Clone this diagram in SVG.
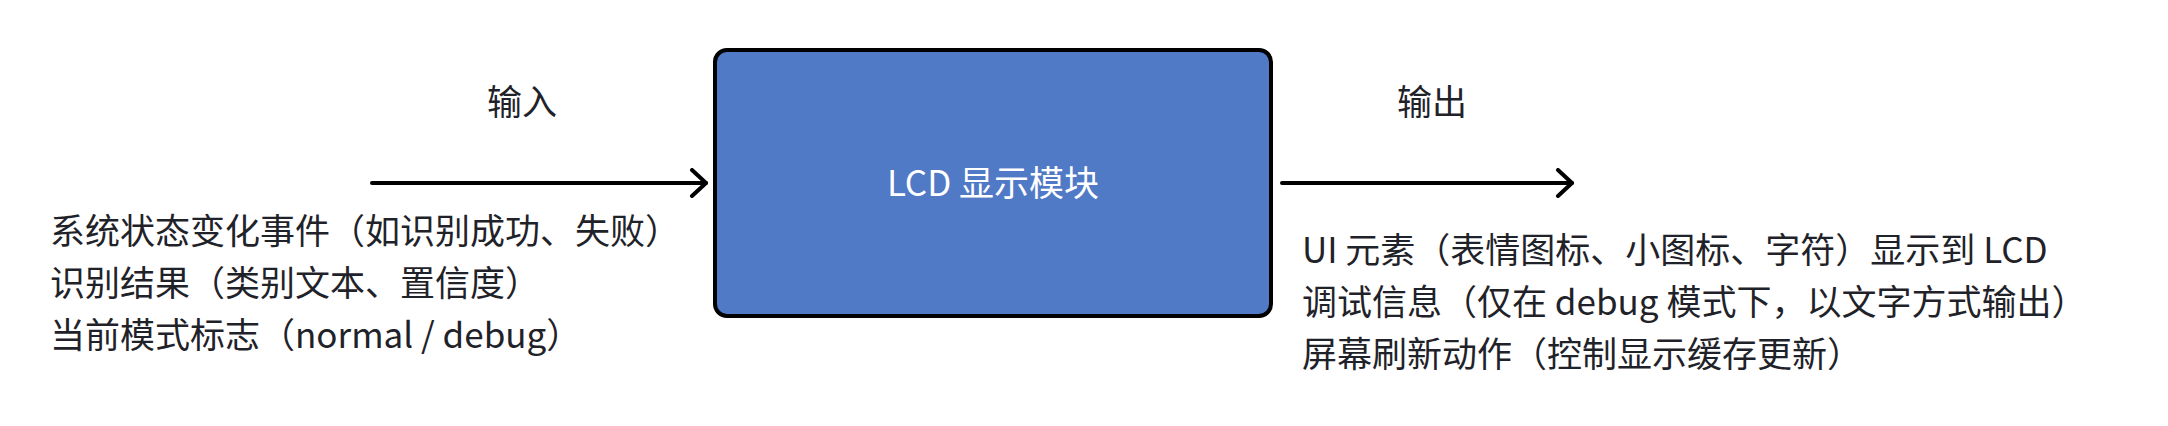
<svg xmlns="http://www.w3.org/2000/svg" width="2168" height="426" viewBox="0 0 2168 426">
<defs>
<style>
.t{font-family:"Noto Sans CJK SC","Noto Sans",sans-serif;font-size:35px;fill:#1f2329}
.b{font-family:"Noto Sans CJK SC","Noto Sans",sans-serif;font-size:35px;fill:#ffffff}
.c{stroke:#000;stroke-width:4;fill:none;stroke-linecap:round}
</style>
<marker id="ah" viewBox="0 0 20 30" markerWidth="20" markerHeight="30" refX="17" refY="15" orient="auto" markerUnits="userSpaceOnUse">
<path d="M3,2 L17,15 L3,28" fill="none" stroke="#000" stroke-width="4" stroke-linecap="round" stroke-linejoin="round"/>
</marker>
</defs>
<rect width="2168" height="426" fill="#ffffff"/>
<g id="connectors">
<line class="c" x1="372" y1="183" x2="706" y2="183" marker-end="url(#ah)"/>
<line class="c" x1="1282" y1="183" x2="1572" y2="183" marker-end="url(#ah)"/>
</g>
<g id="lcd">
<rect x="715" y="50" width="556" height="266" rx="12" ry="12" fill="#5079c6" stroke="#000" stroke-width="4"/>
<text class="b" x="993" y="196" text-anchor="middle">LCD 显示模块</text>
</g>
<g id="input-label">
<text class="t" x="522" y="115" text-anchor="middle">输入</text>
</g>
<g id="output-label">
<text class="t" x="1432" y="115" text-anchor="middle">输出</text>
</g>
<g id="inputs">
<text class="t" x="50" y="244">系统状态变化事件（如识别成功、失败）</text>
<text class="t" x="50" y="296">识别结果（类别文本、置信度）</text>
<text class="t" x="50" y="348">当前模式标志（normal / debug）</text>
</g>
<g id="outputs">
<text class="t" x="1302" y="263">UI 元素（表情图标、小图标、字符）显示到 LCD</text>
<text class="t" x="1302" y="315">调试信息（仅在 debug 模式下，以文字方式输出）</text>
<text class="t" x="1302" y="367">屏幕刷新动作（控制显示缓存更新）</text>
</g>
</svg>
